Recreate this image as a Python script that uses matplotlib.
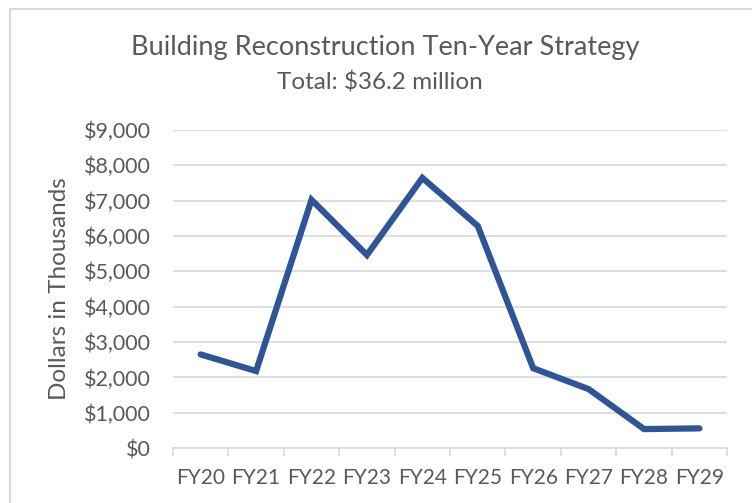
import matplotlib.pyplot as plt
import numpy as np
from matplotlib.patches import Rectangle
from matplotlib.ticker import FuncFormatter

# Данные (тыс. долларов)
years = ["FY20", "FY21", "FY22", "FY23", "FY24", "FY25", "FY26", "FY27", "FY28", "FY29"]
values = [2650, 2180, 7020, 5460, 7640, 6280, 2260, 1670, 540, 560]

text_color = "#595959"
grid_color = "#D9D9D9"
line_color = "#2F5597"

plt.rcParams['font.family'] = ['Lato', 'DejaVu Sans']

fig = plt.figure(figsize=(7.52, 5.03), dpi=100)
ax = fig.add_axes([0.230, 0.109, 0.737, 0.633])

x = np.arange(len(years))
ax.plot(x, values, color=line_color, linewidth=4.5, solid_capstyle='round',
        solid_joinstyle='miter')

ax.set_xlim(-0.5, len(years) - 0.5)
ax.set_ylim(0, 9000)
ax.set_yticks(np.arange(0, 9001, 1000))
ax.yaxis.set_major_formatter(FuncFormatter(lambda v, p: f"${int(v):,}"))
ax.set_xticks(x)
ax.set_xticklabels(years)
ax.set_xticks(np.arange(-0.5, len(years)), minor=True)

ax.grid(axis='y', color=grid_color, linewidth=1.2)
ax.set_axisbelow(True)
for s in ['top', 'right', 'left']:
    ax.spines[s].set_visible(False)
ax.spines['bottom'].set_color(grid_color)
ax.spines['bottom'].set_linewidth(1.2)

ax.tick_params(axis='y', length=0, labelsize=15.5, labelcolor=text_color, pad=16)
ax.tick_params(axis='x', which='major', length=0, labelsize=15, labelcolor=text_color, pad=14)
ax.tick_params(axis='x', which='minor', length=6, color=grid_color, width=1.2)

# подпись оси Y — отдельным текстом, чтобы точно поставить центр
fig.text(60 / 752, 1 - 289 / 503, "Dollars in Thousands", rotation=90,
         ha='center', va='center', fontsize=17.5, color=text_color)

fig.text(385 / 752, 1 - 47 / 503, "Building Reconstruction Ten-Year Strategy",
         ha='center', va='center', fontsize=19.5, color=text_color)
fig.text(380 / 752, 1 - 82 / 503, "Total: $36.2 million",
         ha='center', va='center', fontsize=17.5, color=text_color)

# рамка вокруг диаграммы
fig.patches.append(Rectangle((10 / 752, -0.01), 1.0, 1 - 9 / 503 + 0.01,
                             transform=fig.transFigure, fill=False,
                             edgecolor=grid_color, linewidth=1.5))

fig.savefig("out.png", dpi=100)
